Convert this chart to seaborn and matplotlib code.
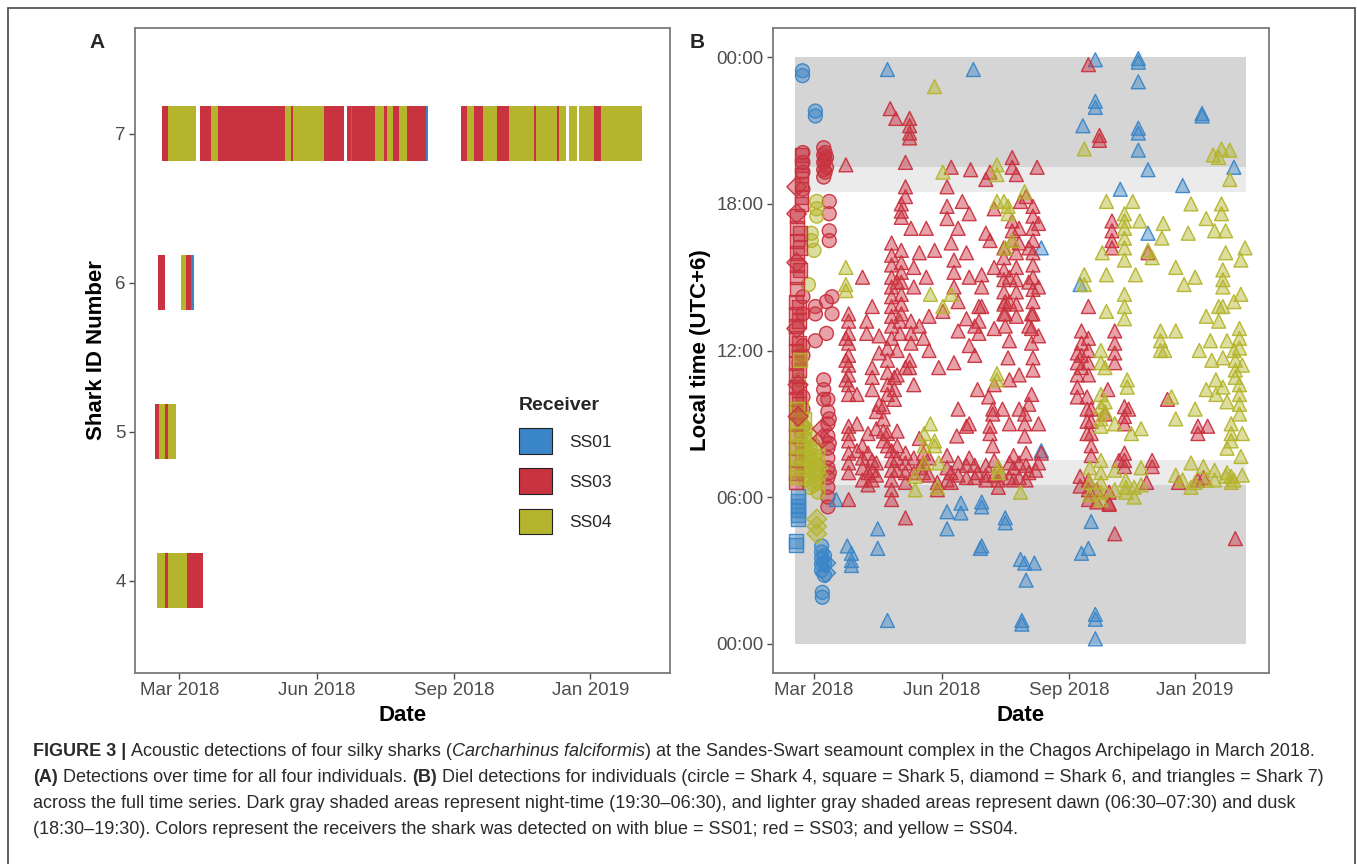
import numpy as np
import pandas as pd
import matplotlib
matplotlib.use("Agg")
import matplotlib.pyplot as plt
import matplotlib.dates as mdates
from matplotlib.patches import Patch, Rectangle
import seaborn as sns

W, H = 1357, 864
ORIGIN = pd.Timestamp("2018-01-01")

RECEIVERS = ["SS01", "SS03", "SS04"]
PALETTE = {"SS01": "#3a86c8", "SS03": "#c9323f", "SS04": "#b4b52c"}
SHARKS = [4, 5, 6, 7]
MARKERS = {4: "o", 5: "s", 6: "D", 7: "^"}

X_TICK_DATES = ["2018-03-01", "2018-06-01", "2018-09-01", "2018-12-01"]
X_TICK_LABELS = ["Mar 2018", "Jun 2018", "Sep 2018", "Jan 2019"]
X_LIMITS = ["2018-01-30 10:00", "2019-01-23 07:00"]
Y_TIME_TICKS = [0, 6, 12, 18, 24]
Y_TIME_LABELS = ["00:00", "06:00", "12:00", "18:00", "00:00"]

# Panel A: detection periods per shark (start day, end day, receiver), days since 1 Jan 2018
shark4_segments = [(44.0, 49.6, "SS04"), (49.6, 51.3, "SS03"), (51.3, 64.5, "SS04"),
                   (64.5, 75.0, "SS03")]
shark5_segments = [(43.0, 45.5, "SS03"), (45.5, 49.5, "SS04"), (49.5, 51.5, "SS03"),
                   (51.5, 57.0, "SS04")]
shark6_segments = [(45.1, 49.4, "SS03"), (60.2, 63.6, "SS04"), (63.6, 67.0, "SS03"),
                   (67.0, 68.6, "SS01")]
shark7_segments = [
    (47.3, 51.7, "SS03"), (51.7, 70.1, "SS04"), (73.2, 80.5, "SS03"), (80.5, 84.9, "SS04"),
    (84.9, 129.7, "SS03"), (129.7, 133.6, "SS04"), (133.6, 134.9, "SS03"),
    (134.9, 155.6, "SS04"), (155.6, 169.4, "SS03"), (171.0, 173.8, "SS03"),
    (173.8, 174.8, "SS01"), (174.8, 189.9, "SS03"), (189.9, 195.8, "SS04"),
    (195.8, 197.9, "SS03"), (197.9, 202.0, "SS04"), (202.0, 205.7, "SS03"),
    (205.7, 211.4, "SS04"), (211.4, 224.3, "SS03"), (224.3, 225.6, "SS01"),
    (247.7, 251.3, "SS03"), (251.3, 256.0, "SS04"), (256.0, 262.4, "SS03"),
    (262.4, 271.5, "SS04"), (271.5, 279.8, "SS03"), (279.8, 296.1, "SS04"),
    (296.1, 297.7, "SS03"), (297.7, 311.7, "SS04"), (311.7, 313.0, "SS03"),
    (313.0, 317.6, "SS04"), (319.7, 325.4, "SS04"), (326.7, 336.3, "SS04"),
    (336.3, 340.9, "SS03"), (340.9, 368.7, "SS04"),
]

# Panel B: detections as (day since 1 Jan 2018, [local hours])
s4_ss01 = [(50.7, [23.45, 23.25]), (60.0, [21.8, 21.6]), (64.5, [4.0, 3.75, 3.5, 3.25, 3.0]),
           (66.5, [3.6, 3.3, 2.8]), (65.0, [2.1, 1.9])]
s4_ss03 = [(51.0, [20.1, 19.7, 19.3, 18.6, 14.2, 13.5, 12.2, 11.8, 10.1, 9.6, 8.9]),
           (66.0, [20.3, 20.0, 19.7, 19.4, 19.1, 10.8, 10.4, 10.0]), (67.0, [20.1, 19.8, 19.3]),
           (68.0, [19.9, 19.5, 14.0, 12.7]), (70.0, [18.1, 17.6, 16.9, 16.5, 9.2, 8.2, 7.0]),
           (72.0, [14.2, 13.5]), (60.0, [13.8, 13.5, 12.4]),
           (69.0, [10.0, 9.5, 9.0, 8.5, 8.0, 7.6, 7.2, 6.8, 6.4, 6.0, 5.6])]
s4_ss04 = [(61.0, [18.1, 17.8, 17.5]), (57.0, [16.8, 16.5]), (59.0, [16.1]), (55.0, [14.7]),
           (48.0, [12.0, 11.5, 10.8]), (50.0, [9.8, 9.4, 9.0, 8.6, 8.2, 7.8, 7.4, 7.0]),
           (53.0, [8.8, 8.3, 7.9, 7.5, 7.1, 6.7]), (56.0, [8.5, 8.0, 7.6, 7.2, 6.8, 6.4]),
           (59.0, [8.1, 7.7, 7.3, 6.9, 6.5]), (62.0, [7.9, 7.5, 7.1, 6.6, 6.2])]
s5_ss01 = [(47.5, [6.05, 5.85, 5.65, 5.45, 5.25, 5.1]), (46.0, [4.2, 4.05])]
s5_ss03 = [(46.0, [14.0, 13.5, 13.0, 12.5, 12.0, 11.5, 11.0, 10.5, 10.0, 9.5, 9.0, 8.5, 8.0,
                   7.5, 7.0, 6.6]),
           (47.0, [17.5, 17.0, 16.5, 16.0, 15.5, 15.0, 14.5]),
           (48.0, [13.8, 13.2, 12.3, 11.7, 11.2, 10.4, 9.8]), (49.0, [16.8, 16.2, 15.3]),
           (50.0, [20.0, 19.6, 19.2, 18.8, 18.3, 18.0])]
s5_ss04 = [(47.0, [9.6, 9.1, 8.6, 8.1, 7.6, 7.2, 6.8]), (52.0, [9.2, 8.4, 7.7]), (49.0, [11.6])]
s6_ss01 = [(67.5, [3.3, 2.9])]
s6_ss03 = [(46.5, [18.7, 17.6, 15.6, 12.9]), (47.5, [10.6, 9.3]), (65.0, [8.8, 8.4])]
s6_ss04 = [(61.0, [5.1, 4.8, 4.5]), (62.0, [7.2, 6.9])]
s7_ss01 = [(112, [23.5, 0.95]), (174, [23.5]), (262, [23.9, 22.2, 21.95, 1.2, 1.0, 0.2]),
           (293, [23.95, 23.8, 23.0, 21.1, 20.9, 20.2]), (253, [21.2]), (339, [21.7, 21.6]),
           (300, [19.4, 16.8]), (280, [18.6]), (325, [18.75]), (362, [19.5]), (223, [16.2, 7.9]),
           (251, [14.7]), (75, [5.9]), (83, [4.0]), (86, [3.7, 3.4, 3.2]), (105, [4.7, 3.9]),
           (155, [5.4, 4.7]), (165, [5.75, 5.35]), (180, [5.8, 5.6, 4.0]), (179, [3.9]),
           (197, [5.15, 4.95]), (208, [3.45]), (211, [3.3]), (218, [3.3]), (212, [2.6]),
           (209, [0.95, 0.8]), (252, [3.7]), (257, [3.9]), (259, [5.0])]
s7_ss03 = [(257, [23.7, 13.8, 12.5, 12.0, 11.5, 11.0, 6.7, 6.3, 5.9]),
           (114, [21.9]), (118, [21.5]), (128, [21.5, 21.2, 20.9, 20.7, 11.6, 11.3]),
           (265, [20.8, 20.6]), (82, [19.6, 12.5, 11.6, 10.8]),
           (125, [19.7, 18.7, 18.3, 11.3, 7.8, 7.4, 7.0, 6.6, 5.15]),
           (122, [18.0, 17.7, 17.45, 16.1, 15.6, 15.2, 14.8, 14.3, 13.9, 13.5]),
           (158, [19.5, 16.4, 7.0, 6.6]), (172, [19.4]),
           (183, [19.0, 16.8, 7.3, 6.9, 6.7]), (186, [19.3, 16.5, 8.9, 8.6]),
           (202, [19.9, 19.5, 17.3, 16.9, 16.5]),
           (205, [19.2, 16.0, 15.4, 14.9, 14.4, 13.9, 13.4]),
           (220, [19.5]), (155, [18.7, 17.9, 17.4, 7.7, 7.2, 6.7]), (166, [18.1]),
           (129, [17.0, 13.2, 12.7, 12.3]), (140, [17.0, 15.0]), (208, [18.1]),
           (212, [18.3, 7.8, 7.3, 6.7]),
           (217, [17.9, 17.5, 17.0, 16.5, 16.0, 15.5, 15.0, 14.5, 14.0, 13.5, 11.7, 11.2]),
           (115, [16.4, 15.9, 15.5, 15.0, 14.6, 14.2, 13.8, 13.4, 13.0, 12.5, 7.9, 7.5, 7.1,
                  6.7, 6.3, 5.9]),
           (146, [16.1]), (94, [15.0, 8.1, 7.6, 7.2, 6.7]), (160, [15.7, 15.2, 14.6, 11.5]),
           (180, [15.1, 14.6, 13.8]), (196, [16.2, 15.8, 15.3, 14.9, 14.4, 13.9, 13.5]),
           (84, [13.5, 13.2, 12.7, 12.3, 11.8, 11.4, 11.0, 10.6, 10.2, 8.9, 8.6, 8.3, 7.8,
                 7.4, 7.0, 5.9]),
           (101, [13.8, 11.3, 10.9, 10.4, 7.5, 7.1, 6.7]), (152, [13.6]),
           (274, [17.3, 16.9, 16.5, 16.2]), (300, [16.0]),
           (97, [13.2, 12.7]), (112, [12.1, 11.6, 11.1, 10.6, 10.2, 8.6, 8.1]),
           (109, [9.7, 9.2, 8.7, 8.3]), (117, [10.9, 10.4, 10.0]), (121, [13.2, 12.7]),
           (138, [12.5, 7.8, 7.4, 7.0]), (149, [11.3]), (162, [8.5]), (148, [6.6, 6.3]),
           (177, [10.4, 7.0]), (178, [13.8, 13.2, 12.7]), (188, [9.6, 9.4, 8.1]), (195, [9.6]),
           (185, [10.1]), (192, [6.7, 6.4]), (197, [14.0, 13.5, 13.0]), (199, [11.7]),
           (194, [7.0]), (203, [7.7, 7.2, 6.7]), (211, [9.4, 9.0, 8.5]),
           (216, [13.5, 12.9, 12.3, 10.2]), (219, [7.1]), (223, [7.8]),
           (249, [11.9, 11.5, 11.0, 10.5, 10.1]), (252, [12.8, 12.3, 11.8, 11.3]),
           (256, [10.1, 9.6, 9.1, 8.6]), (259, [9.6, 9.1, 8.6, 8.1, 7.7]), (251, [6.85, 6.45]),
           (263, [6.3, 5.8]), (272, [6.2, 5.75, 5.7]), (269, [9.4]),
           (276, [12.8, 12.3, 11.9, 11.5, 4.5]), (271, [10.4]),
           (283, [9.7, 9.3, 9.0, 7.8, 7.5, 7.25]), (279, [7.5]), (286, [9.6]),
           (303, [7.5, 7.25]), (299, [6.6]), (314, [10.0]), (336, [8.9, 8.6, 6.7]),
           (343, [8.9]), (340, [6.8]), (322, [6.6]), (363, [4.3]),
           (90, [10.2, 9.0, 7.9]), (98, [8.6, 7.8, 7.0, 6.5]), (104, [9.5, 8.8, 7.4, 6.9]),
           (106, [12.6, 11.9, 9.8]), (119, [14.8, 12.0, 11.0, 8.7, 8.1, 7.6, 7.1]),
           (131, [15.4, 14.6, 10.6, 7.6, 7.0]), (135, [16.0, 13.0, 8.4, 7.2]),
           (142, [13.4, 12.0, 7.6, 6.9]), (163, [17.0, 14.0, 12.8, 9.6, 7.4, 6.9]),
           (169, [16.0, 13.3, 8.9, 7.3, 6.8]), (171, [17.6, 15.0, 12.2, 9.0, 7.6]),
           (175, [13.0, 11.8, 7.3, 6.8]), (189, [17.8, 15.4, 12.9, 10.6, 7.5, 6.9]),
           (200, [15.0, 14.0, 12.4, 10.8, 9.0, 7.4, 6.8]),
           (207, [17.0, 16.4, 11.0, 9.6, 7.4, 6.8]), (214, [16.2, 14.8, 13.0, 9.8, 7.0]),
           (221, [17.2, 14.6, 12.6, 9.0, 7.4])]
s7_ss04 = [(146, [22.8, 8.3, 8.1]), (254, [20.25, 15.1, 14.7]), (347, [20.0]),
           (353, [20.25, 18.0, 17.6]), (359, [20.2, 19.0]), (351, [19.9, 13.8, 13.2]),
           (152, [19.3, 13.8]), (191, [19.6, 19.2, 18.1, 11.05, 10.8]), (196, [18.1]),
           (199, [17.9, 17.6]), (211, [18.5]), (270, [18.1, 15.1, 13.6]), (289, [18.1]),
           (283, [17.6, 17.3, 17.0, 16.6, 16.2, 15.7, 14.3, 13.8, 13.3]), (291, [15.1]),
           (294, [17.3]), (311, [17.2]), (310, [16.6]), (331, [18.0, 7.4, 6.4]), (329, [16.8]),
           (348, [16.9, 7.1, 6.7]), (356, [16.9, 16.0, 6.85]), (370, [16.2]),
           (367, [15.7, 14.3, 7.66]), (354, [15.3, 14.9, 14.6, 13.8, 11.7, 10.5]),
           (267, [16.0]), (300, [16.1]), (303, [15.8]), (326, [14.7]),
           (82, [15.4, 14.7, 14.45]), (158, [14.3]), (143, [14.3, 9.0]), (202, [16.5]),
           (197, [16.2]), (138.5, [8.6, 8.1, 7.4]), (149, [7.4]), (132, [6.85, 6.3]),
           (148, [6.4]), (192, [7.25, 7.0]), (208, [6.2]),
           (266, [12.0, 11.5, 10.2, 9.7, 9.2, 8.9, 7.5, 7.0, 6.6, 6.2, 5.9]),
           (269, [11.3, 9.9, 9.5]), (285, [10.8, 10.5]), (288, [8.6]), (284, [6.7, 6.4, 6.2]),
           (290, [6.4, 6.0]), (309, [12.8, 12.4, 12.0]), (312, [12.0]), (317, [10.1]),
           (325, [6.7]), (337, [12.0]), (345, [12.4]), (346, [11.6]), (349, [10.8, 10.2]),
           (360, [9.0, 8.6, 8.3, 6.85, 6.6]),
           (366, [12.9, 12.5, 12.1, 10.6, 10.2, 9.8, 9.4]), (363, [11.6, 11.2, 10.9]),
           (340, [7.25]),
           (320, [15.4, 12.8, 9.2, 6.9]), (334, [15.0, 9.6, 6.6]),
           (342, [17.4, 13.4, 10.4, 6.7]), (357, [12.4, 9.9, 8.0, 7.0]),
           (368, [11.4, 8.6, 6.9]), (362, [14.0, 12.0, 6.7]), (258, [7.2, 6.6, 6.1]),
           (276, [9.0, 7.1, 6.3]), (295, [8.8, 7.2, 6.5])]

# Shaded diel periods (hours) and the span of the series (days)
NIGHT = [(0.0, 6.5), (19.5, 24.0)]
TWILIGHT = [(6.5, 7.5), (18.5, 19.5)]
SERIES_SPAN = (45.0, 371.0)


def day_num(day):
    return mdates.date2num(ORIGIN + pd.Timedelta(days=float(day)))


def px_axes(left, top, right, bottom):
    return [left / W, 1 - bottom / H, (right - left) / W, (bottom - top) / H]


sns.set_theme(style="white")
plt.rcParams["font.family"] = ["Liberation Sans", "DejaVu Sans"]
TICK_GREY = "#4d4d4d"

fig = plt.figure(figsize=(W / 100, H / 100), dpi=100)
axA = fig.add_axes(px_axes(135, 28, 670, 673))
axB = fig.add_axes(px_axes(773, 28, 1269, 673))

x_lo, x_hi = (mdates.date2num(pd.Timestamp(d)) for d in X_LIMITS)
tick_pos = [mdates.date2num(pd.Timestamp(d)) for d in X_TICK_DATES]

# ---- Panel A: detection timeline per shark ----
for shark, segs in zip(SHARKS, [shark4_segments, shark5_segments, shark6_segments,
                                 shark7_segments]):
    for start, end, rec in segs:
        axA.barh(shark, day_num(end) - day_num(start), left=day_num(start), height=0.37,
                 color=PALETTE[rec], linewidth=0)
axA.set_ylim(3.38, 7.71)
axA.set_yticks(SHARKS)
axA.set_yticklabels([str(s) for s in SHARKS])
axA.set_ylabel("Shark ID Number", fontsize=16, fontweight="bold", color="black")
axA.yaxis.set_label_coords(-0.052, 0.5)

handles = [Patch(facecolor=PALETTE[r], edgecolor="#222222", linewidth=0.8) for r in RECEIVERS]
leg = axA.legend(handles, RECEIVERS, title="Receiver", loc="upper left",
                 bbox_to_anchor=(0.718, 0.428), frameon=False, fontsize=12.5,
                 title_fontproperties={"weight": "bold", "size": 14}, alignment="left",
                 handlelength=1.9, handleheight=1.9, labelspacing=0.83, handletextpad=1.0,
                 borderpad=0, borderaxespad=0)

# ---- Panel B: diel detections ----
for (lo, hi), col in [(p, "#d5d5d5") for p in NIGHT] + [(p, "#ebebeb") for p in TWILIGHT]:
    axB.add_patch(Rectangle((day_num(SERIES_SPAN[0]), lo),
                            day_num(SERIES_SPAN[1]) - day_num(SERIES_SPAN[0]), hi - lo,
                            facecolor=col, edgecolor="none", zorder=0))

rows = []
groups = [(4, "SS01", s4_ss01), (4, "SS03", s4_ss03), (4, "SS04", s4_ss04),
          (5, "SS01", s5_ss01), (5, "SS03", s5_ss03), (5, "SS04", s5_ss04),
          (6, "SS01", s6_ss01), (6, "SS03", s6_ss03), (6, "SS04", s6_ss04),
          (7, "SS01", s7_ss01), (7, "SS03", s7_ss03), (7, "SS04", s7_ss04)]
for shark, rec, entries in groups:
    for day, hours in entries:
        for h in hours:
            rows.append({"date": day_num(day), "hour": h, "shark": shark, "receiver": rec})
det = pd.DataFrame(rows)

sns.scatterplot(data=det, x="date", y="hour", hue="receiver", style="shark",
                hue_order=RECEIVERS, style_order=SHARKS, palette=PALETTE, markers=MARKERS,
                s=100, linewidth=1.0, legend=False, ax=axB, zorder=3)
pts = axB.collections[-1]
face = np.array(pts.get_facecolors())
edge = face.copy()
face[:, 3] = 0.45
edge[:, 3] = 0.95
pts.set_facecolors(face)
pts.set_edgecolors(edge)

axB.set_ylim(-1.2, 25.2)
axB.set_yticks(Y_TIME_TICKS)
axB.set_yticklabels(Y_TIME_LABELS)
axB.set_ylabel("Local time (UTC+6)", fontsize=16, fontweight="bold", color="black")
axB.yaxis.set_label_coords(-0.125, 0.5)

for ax in (axA, axB):
    ax.set_xlim(x_lo, x_hi)
    ax.set_xticks(tick_pos)
    ax.set_xticklabels(X_TICK_LABELS)
    ax.set_xlabel("Date", fontsize=16, fontweight="bold", color="black")
    ax.xaxis.set_label_coords(0.5, -0.05)
    ax.set_facecolor("white")
    ax.grid(False)
    for sp in ax.spines.values():
        sp.set_color("#7a7a7a")
        sp.set_linewidth(1.3)
    ax.tick_params(axis="both", which="both", length=4, width=1.0, color=TICK_GREY,
                   labelcolor=TICK_GREY, labelsize=13.5, pad=2.5, left=True, bottom=True)

fig.text(97 / W, 1 - 42 / H, "A", fontsize=15, fontweight="bold", ha="center", va="center")
fig.text(697 / W, 1 - 42 / H, "B", fontsize=15, fontweight="bold", ha="center", va="center")

# Outer frame round figure and caption
fig.add_artist(Rectangle((8 / W, -0.1), (1355 - 8) / W, 1.1 - 8 / H, transform=fig.transFigure,
                         fill=False, edgecolor="#555555", linewidth=1.3, clip_on=False))

# ---- Caption ----
CAP_FAMILY = ["Liberation Sans Narrow", "Liberation Sans", "DejaVu Sans"]
CAP_COLOR = "#2a2a2a"
caption_lines = [
    [("FIGURE 3 |", "bold", "normal"),
     ("Acoustic detections of four silky sharks (", "normal", "normal"),
     ("Carcharhinus falciformis", "normal", "italic"),
     (") at the Sandes-Swart seamount complex in the Chagos Archipelago in March 2018.",
      "normal", "normal")],
    [("(A)", "bold", "normal"),
     ("Detections over time for all four individuals.", "normal", "normal"),
     ("(B)", "bold", "normal"),
     ("Diel detections for individuals (circle = Shark 4, square = Shark 5, diamond = Shark 6, "
      "and triangles = Shark 7)", "normal", "normal")],
    [("across the full time series. Dark gray shaded areas represent night-time (19:30\u201306:30), "
      "and lighter gray shaded areas represent dawn (06:30\u201307:30) and dusk",
      "normal", "normal")],
    [("(18:30\u201319:30). Colors represent the receivers the shark was detected on with "
      "blue = SS01; red = SS03; and yellow = SS04.", "normal", "normal")],
]
# segments joined without a space: inside "(" and before ")"
joins = [[False, True, False, False], [False, True, True, True], [False], [False]]
caption_y = [752, 778, 804, 830]

renderer = fig.canvas.get_renderer()


def measure(text, size, weight="normal", style="normal"):
    t = fig.text(0, 0, text, fontsize=size, fontweight=weight, fontstyle=style,
                 family=CAP_FAMILY)
    w = t.get_window_extent(renderer=renderer).width
    t.remove()
    return w


def line_width(segs, flags, size):
    space = measure("a a", size) - measure("aa", size)
    total = 0
    for (txt, wt, st), sp in zip(segs, flags):
        total += (space if sp else 0) + measure(txt, size, wt, st)
    return total


base = 12.0
cap_size = base * 1282 / line_width(caption_lines[0], joins[0], base)
space_w = measure("a a", cap_size) - measure("aa", cap_size)
for segs, flags, y in zip(caption_lines, joins, caption_y):
    x = 33
    for (txt, wt, st), sp in zip(segs, flags):
        if sp:
            x += space_w
        t = fig.text(x / W, 1 - y / H, txt, fontsize=cap_size, fontweight=wt, fontstyle=st,
                     family=CAP_FAMILY, color=CAP_COLOR, ha="left", va="center")
        x += t.get_window_extent(renderer=renderer).width

fig.savefig("out.png", dpi=100)
